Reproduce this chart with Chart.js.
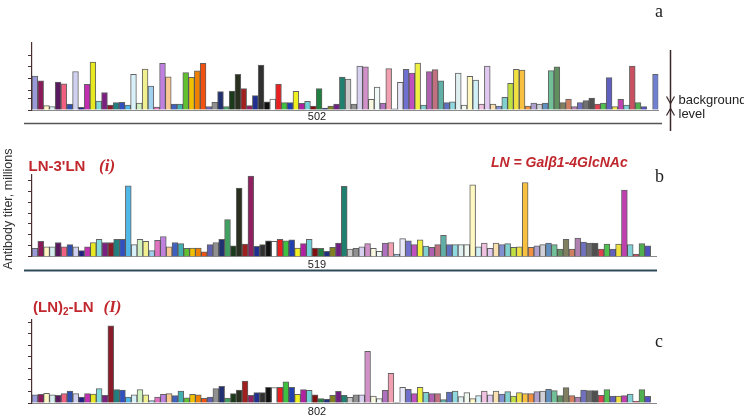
<!DOCTYPE html>
<html><head><meta charset="utf-8">
<script src="https://cdn.jsdelivr.net/npm/chart.js@4.4.0/dist/chart.umd.min.js"></script>
<style>
html,body{margin:0;padding:0;background:#fff;}
#wrap{position:relative;width:744px;height:420px;overflow:hidden;background:#fff;}
canvas{position:absolute;left:0;top:0;}
</style></head><body>
<div id="wrap">
<canvas id="ca" width="744" height="420"></canvas>
<canvas id="cb" width="744" height="420"></canvas>
<canvas id="cc" width="744" height="420"></canvas>
</div>
<script>
// ---- data ----
const antigens = Array.from({length:108}, (_, i) => String(i + 1));

const panelA = [2.9,2.5,0.37,0.3,2.4,2.25,0.5,3.3,0.23,2.2,
4.1,0.77,1.5,0.43,0.63,0.66,0.43,3.05,0.6,3.5,
2.05,0.26,4.0,2.85,0.5,0.5,3.2,2.8,3.35,4.0,
0.3,0.66,1.57,0.3,1.63,3.05,1.83,0.37,1.23,3.85,
0.71,0.94,2.23,0.63,0.63,1.6,0.57,0.74,0.34,1.83,
0.17,0.34,0.51,2.83,2.66,0.51,3.77,3.69,0.91,1.97,
0.6,3.54,0.09,2.37,3.49,3.17,4.03,0.43,3.29,3.46,
2.49,0.63,0.69,3.17,0.43,2.89,2.57,0.51,3.77,0.51,
0.34,1.09,2.29,3.49,3.43,0.34,0.6,0.51,0.6,3.37,
3.71,0.63,0.94,0.29,0.63,0.8,1.03,0.51,0.6,2.77,
0.29,0.91,0.43,3.77,0.63,0.29,null,3.05];

const panelB = [0.76,1.4,0.9,0.9,1.3,0.9,1.1,0.9,0.55,0.9,
1.3,1.6,1.3,1.3,1.6,1.6,6.5,1.1,1.6,1.4,
0.55,1.5,1.85,0.9,1.3,1.2,0.76,0.8,0.8,0.45,
1.1,1.3,1.6,3.4,1.0,6.3,1.15,7.4,0.95,1.1,
1.45,1.4,1.6,1.45,1.55,0.8,1.2,1.6,0.8,0.76,
0.5,0.85,1.25,6.45,0.7,0.76,0.9,1.2,0.76,0.5,
1.25,1.3,0.25,1.65,1.45,1.1,1.55,0.97,0.85,1.1,
1.97,1.1,1.1,1.1,1.1,6.6,0.9,1.25,0.76,1.25,
1.1,1.2,0.85,0.9,6.8,0.85,1.0,1.1,1.25,1.1,
0.7,1.6,0.7,1.7,1.35,1.25,1.25,0.7,1.15,0.7,
1.15,6.1,1.1,0.25,1.2,1.0,null];

const panelC = [0.72,0.75,0.84,0.7,0.67,0.81,1.04,0.81,0.52,0.81,
0.78,1.25,0.67,6.7,1.16,1.13,0.52,0.72,1.16,0.7,
0.2,0.52,0.75,0.81,0.64,1.04,0.46,0.75,0.7,0.41,
0.52,1.25,1.45,0.43,0.81,1.13,1.91,0.67,0.9,0.9,
1.36,1.33,1.36,1.83,1.36,0.75,1.16,1.1,0.7,0.38,
0.35,0.67,1.01,0.67,0.49,0.7,0.7,4.49,0.61,0.38,
1.1,2.58,0.05,1.36,1.19,0.81,1.36,0.93,0.81,0.81,
0.29,0.96,1.04,0.55,0.9,0.38,0.64,1.04,0.72,1.04,
0.78,0.99,0.61,0.9,0.81,0.81,0.99,1.04,1.19,1.07,
0.64,1.33,0.64,0.52,1.13,1.07,1.07,0.67,1.16,0.61,
0.61,0.64,0.78,0.17,1.16,0.58,null];

const ticksA = [0, 1, 1.71, 2.71, 3.71, 4.71];
const ticksB = [0, 1, 2, 3, 4, 5, 6, 7];
const ticksC = [0, 1, 2, 3, 4, 5, 6, 7];

const panelLabels = ['a', 'b', 'c'];
const axisNumbers = ['502', '519', '802'];
const yTitle = 'Antibody titer, millions';

// ---- styles ----
const barColors = ['#9a9ad8','#8b1a5a','#fff6c4','#d6eef0','#5a1a60','#f06080','#3050b0','#d0d0f0','#202080','#c030b0',
'#e8e820','#80d8d8','#7a2080','#8b1a2a','#208080','#3050c0','#50b8e8','#d8f0f8','#d0f0c0','#f0f090',
'#a0d0f0','#e070c0','#c080e0','#f8c890','#4060c0','#40b0b0','#60c030','#f0c000','#f08000','#f05010',
'#6060b0','#909090','#203070','#40a060','#1a3a1a','#2a3020','#a02020','#902060','#203090','#303030',
'#101010','#ffffff','#e82020','#40c040','#2040b0','#f0f020','#b020a0','#70d0d8','#801010','#208040',
'#203080','#808020','#702080','#208070','#c8c8c8','#909090','#d8d0f0','#d090c8','#f8f8e0','#f0f8f8',
'#b070c0','#f0a0b0','#a0c0e0','#e8e8f8','#7070d0','#c050c0','#f0f040','#80d0d0','#b060b0','#c07080',
'#60b0a8','#6070c0','#90d8e0','#e0f0f0','#f0f8f0','#fff8c0','#d0f0f8','#f0c0e0','#e0c8f0','#f8e0b0',
'#8090d0','#80d0d0','#c0e040','#f0e040','#f8c040','#f09040','#b0a0d0','#d0d0d8','#6090c0','#70c098',
'#609060','#808060','#d08060','#b080b0','#7070c0','#707070','#505050','#e04050','#50c050','#6060c0',
'#f0e040','#c040b0','#80d0d8','#c85060','#50b050','#5050c0','#ffffff','#7080d0'];
const barEdge = 'rgba(45,45,45,0.75)';
const axisColor = '#4a3030';
const red = '#c0282e';

const deco = {
  id: 'deco',
  afterDraw(chart) {
    const c = chart.ctx;
    c.save();
    // separator lines
    c.strokeStyle = '#555'; c.lineWidth = 1.5;
    c.beginPath(); c.moveTo(24, 123.5); c.lineTo(662, 123.5); c.stroke();
    c.strokeStyle = '#2e4a58'; c.lineWidth = 2;
    c.beginPath(); c.moveTo(24, 270.5); c.lineTo(657, 270.5); c.stroke();
    // background level bracket
    c.strokeStyle = '#3a2828'; c.lineWidth = 1.5;
    c.beginPath(); c.moveTo(670.5, 50); c.lineTo(670.5, 131); c.stroke();
    c.lineWidth = 1.2;
    c.beginPath(); c.moveTo(666.5, 96.5); c.lineTo(670.5, 103.5); c.lineTo(674.5, 96.5); c.stroke();
    c.beginPath(); c.moveTo(666.5, 115.5); c.lineTo(670.5, 108.5); c.lineTo(674.5, 115.5); c.stroke();
    c.fillStyle = '#222';
    c.font = '13px "Liberation Sans", Arial, sans-serif';
    c.textAlign = 'left'; c.textBaseline = 'middle';
    c.fillText('background', 678.5, 100.5);
    c.fillText('level', 678.5, 114.5);
    // panel letters
    c.font = '18px "Liberation Serif", "Times New Roman", serif';
    c.textBaseline = 'alphabetic';
    c.fillText(panelLabels[0], 655, 17);
    c.fillText(panelLabels[1], 655, 182);
    c.fillText(panelLabels[2], 655, 347);
    // axis numbers
    c.font = '11px "Liberation Sans", Arial, sans-serif';
    c.textAlign = 'center'; c.textBaseline = 'middle';
    c.fillText(axisNumbers[0], 317, 117);
    c.fillText(axisNumbers[1], 317, 264.5);
    c.fillText(axisNumbers[2], 317, 411.5);
    // y title
    c.save();
    c.translate(8.5, 209); c.rotate(-Math.PI / 2);
    c.font = '12.5px "Liberation Sans", Arial, sans-serif';
    c.fillStyle = '#333';
    c.fillText(yTitle, 0, 0);
    c.restore();
    // titles
    c.fillStyle = red;
    c.textAlign = 'left'; c.textBaseline = 'alphabetic';
    c.font = 'bold 15px "Liberation Sans", Arial, sans-serif';
    c.fillText("LN-3'LN", 28.5, 170.5);
    c.font = 'bold italic 17px "Liberation Serif", "Times New Roman", serif';
    c.fillText('(i)', 99, 170.5);
    c.font = 'bold italic 14px "Liberation Sans", Arial, sans-serif';
    c.fillText('LN = Gal\u03B21-4GlcNAc', 491, 166.5);
    c.font = 'bold 15px "Liberation Sans", Arial, sans-serif';
    c.fillText('(LN)', 33, 311.5);
    let x = 33 + c.measureText('(LN)').width;
    c.font = 'bold 10px "Liberation Sans", Arial, sans-serif';
    c.fillText('2', x, 315);
    x += c.measureText('2').width;
    c.font = 'bold 15px "Liberation Sans", Arial, sans-serif';
    c.fillText('-LN', x, 311.5);
    x += c.measureText('-LN').width;
    c.font = 'bold italic 17px "Liberation Serif", "Times New Roman", serif';
    c.fillText('(I)', x + 10, 311.5);
    c.restore();
  }
};

function makePanel(id, values, n, ticks, yMax, area, extra) {
  return new Chart(document.getElementById(id), {
    type: 'bar',
    data: {
      labels: antigens.slice(0, n),
      datasets: [{
        data: values.slice(0, n),
        backgroundColor: barColors.slice(0, n),
        borderColor: barEdge,
        borderWidth: 1,
        categoryPercentage: 1,
        barPercentage: 1
      }]
    },
    options: {
      responsive: false,
      animation: false,
      devicePixelRatio: 1,
      layout: { padding: { left: area.left - 5, right: 744 - area.right, top: area.top, bottom: 420 - area.bottom } },
      plugins: { legend: { display: false }, tooltip: { enabled: false }, title: { display: false } },
      scales: {
        x: {
          display: true, offset: true,
          grid: { display: false, drawTicks: false },
          ticks: { display: false },
          border: { display: true, color: '#8a8a8a', width: 1 },
          afterFit: s => { s.height = 0; }
        },
        y: {
          min: 0, max: yMax,
          afterBuildTicks: s => { s.ticks = ticks.map(v => ({ value: v })); },
          afterFit: s => { s.width = 5; },
          grid: { drawOnChartArea: false, drawTicks: true, tickLength: 4, color: axisColor, lineWidth: 1 },
          ticks: { display: false },
          border: { display: true, color: axisColor, width: 1.2 }
        }
      }
    },
    plugins: extra || []
  });
}

makePanel('ca', panelA, 108, ticksA, 5.75, { left: 32, right: 658.4, top: 42.9, bottom: 110 }, [deco]);
makePanel('cb', panelB, 107, ticksB, 7.5, { left: 32, right: 656.5, top: 174.9, bottom: 256.7 });
makePanel('cc', panelC, 107, ticksC, 7.25, { left: 32, right: 656.5, top: 319.6, bottom: 403 });
</script>
</body></html>
